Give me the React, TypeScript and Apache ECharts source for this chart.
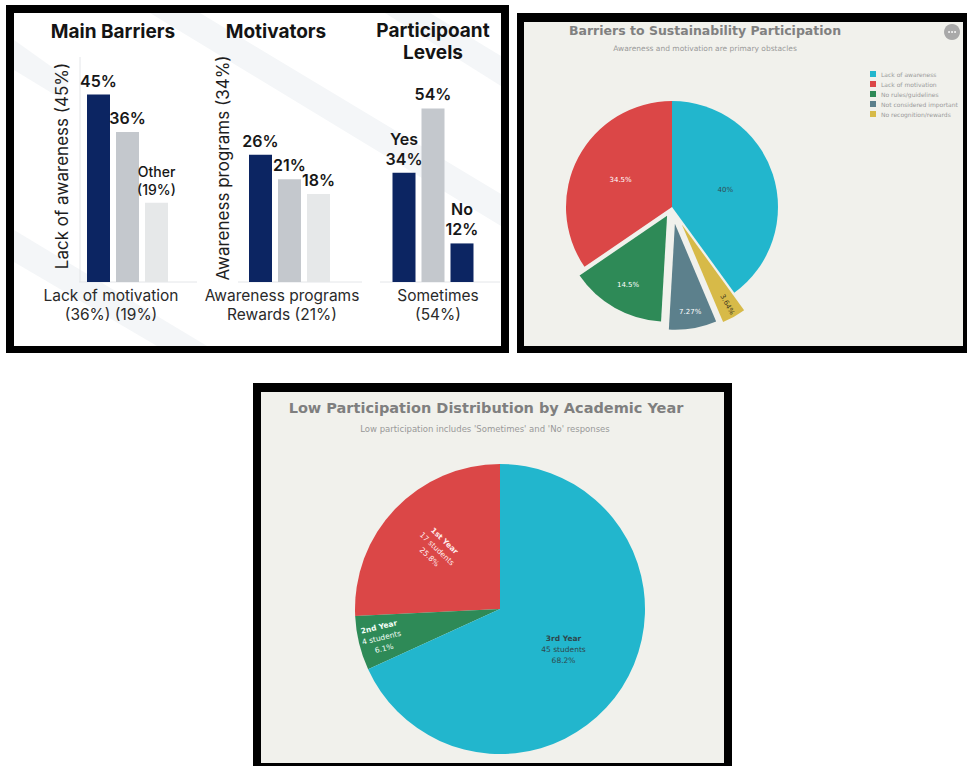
import React, { useEffect, useRef } from "react";
import * as echarts from "echarts";

// ---------- Panel 1 : slide with three small bar groups ----------
const barrierCategories = ["Lack of awareness", "Lack of motivation", "Other"];
const barrierValues = [45, 36, 19];
const motivatorCategories = ["Awareness programs", "Rewards", "Other"];
const motivatorValues = [26, 21, 18];
const levelCategories = ["Yes", "Sometimes", "No"];
const levelValues = [34, 54, 12];

const groupTitles = ["Main Barriers", "Motivators", "Participoant\nLevels"];
const groupAxisTitles = ["Lack of awareness (45%)", "Awareness programs (34%)"];
const groupFootnotes = [
  "Lack of motivation\n(36%) (19%)",
  "Awareness programs\nRewards (21%)",
  "Sometimes\n(54%)",
];

// ---------- Panel 2 : barriers pie ----------
const barrierReasons = [
  "Lack of awareness",
  "Lack of motivation",
  "No rules/guidelines",
  "Not considered important",
  "No recognition/rewards",
];
const barrierCounts = [22, 19, 8, 4, 2];
const barrierTitle = "Barriers to Sustainability Participation";
const barrierSubtitle = "Awareness and motivation are primary obstacles";

// ---------- Panel 3 : low participation by year ----------
const academicYears = ["1st Year", "2nd Year", "3rd Year"];
const lowParticipationCounts = [17, 4, 45];
const yearTitle = "Low Participation Distribution by Academic Year";
const yearSubtitle = "Low participation includes 'Sometimes' and 'No' responses";

const NAVY = "#0c2562";
const GRAY = "#c4c8cd";
const LIGHT = "#e6e8e9";
const CYAN = "#22b6cd";
const RED = "#db4747";
const GREEN = "#2e8a57";
const SLATE = "#5c808c";
const MUSTARD = "#d7ba48";
const PANEL_BG = "#f1f1ec";
const CLEAR = "rgba(0,0,0,0)";

const sum = (a: number[]) => a.reduce((s, v) => s + v, 0);

function txt(
  text: string,
  x: number,
  y: number,
  o: { size: number; weight?: any; color: string; family: string; lh?: number; rot?: number; align?: string }
) {
  return {
    type: "text",
    x,
    y,
    rotation: o.rot || 0,
    silent: true,
    style: {
      text,
      x: 0,
      y: 0,
      fill: o.color,
      fontSize: o.size,
      fontWeight: o.weight || "normal",
      fontFamily: o.family,
      lineHeight: o.lh,
      align: o.align || "center",
      verticalAlign: "middle",
      textAlign: o.align || "center",
      textVerticalAlign: "middle",
    },
  };
}

function buildOption() {
  const INTER = "Inter, 'Noto Sans', sans-serif";
  const DJV = "'DejaVu Sans', sans-serif";

  const barGroups = [
    {
      cats: barrierCategories,
      values: barrierValues,
      colors: [NAVY, GRAY, LIGHT],
      left: 84,
      max: 54,
      text: (c: string, v: number, i: number) => (i === 2 ? `${c}\n(${v}%)` : `${v}%`),
      small: [2],
    },
    {
      cats: motivatorCategories,
      values: motivatorValues,
      colors: [NAVY, GRAY, LIGHT],
      left: 246,
      max: 46,
      text: (_c: string, v: number) => `${v}%`,
      small: [] as number[],
    },
    {
      cats: levelCategories,
      values: levelValues,
      colors: [NAVY, GRAY, NAVY],
      left: 389.5,
      max: 70,
      text: (c: string, v: number, i: number) => (i === 1 ? `${v}%` : `${c}\n${v}%`),
      small: [] as number[],
    },
  ];

  const grid = barGroups.map((g) => ({ left: g.left, top: 57, width: 87, height: 225 }));
  const xAxis = barGroups.map((g, i) => ({
    type: "category",
    gridIndex: i,
    data: g.cats,
    axisLine: { show: false },
    axisTick: { show: false },
    axisLabel: { show: false },
  }));
  const yAxis = barGroups.map((g, i) => ({
    type: "value",
    gridIndex: i,
    min: 0,
    max: g.max,
    show: false,
    splitLine: { show: false },
  }));

  const series: any[] = barGroups.map((g, i) => ({
    type: "bar",
    xAxisIndex: i,
    yAxisIndex: i,
    barWidth: 23,
    silent: true,
    data: g.values.map((v, j) => {
      const small = g.small.indexOf(j) >= 0;
      return {
        value: v,
        itemStyle: { color: g.colors[j] },
        label: {
          show: true,
          position: "top",
          distance: 4,
          formatter: g.text(g.cats[j], v, j),
          fontFamily: INTER,
          fontSize: small ? 14 : 16,
          fontWeight: small ? 500 : 600,
          lineHeight: small ? 18 : 20,
          color: "#171717",
          align: "center",
        },
      };
    }),
  }));

  // ----- Panel 2 pie (each slice its own layer so each can be pulled by its own amount) -----
  const colors2 = [CYAN, RED, GREEN, SLATE, MUSTARD];
  const pulls2 = [0, 0, 10, 17, 20];
  const labelPos2 = [0.5, 0.52, 0.72, 0.82, 0.84];
  const labelColor2 = ["#2f4b52", "#ffffff", "#ffffff", "#ffffff", "#3f3a22"];
  const labelRot2: any[] = [0, 0, 0, 0, "radial"];
  const R2 = 106;
  const total2 = sum(barrierCounts);
  const start2 = 90 - (360 * barrierCounts[0]) / total2;

  barrierReasons.forEach((_n, k) => {
    const layer = (labelLayer: boolean) => ({
      type: "pie",
      silent: true,
      center: [672, 207],
      radius: [labelLayer ? (2 * labelPos2[k] - 1) * R2 : 0, R2],
      startAngle: start2,
      clockwise: false,
      avoidLabelOverlap: false,
      selectedMode: "single",
      selectedOffset: pulls2[k],
      labelLine: { show: false },
      emphasis: { disabled: true },
      itemStyle: { borderWidth: 0 },
      data: barrierReasons.map((name, j) => ({
        name,
        value: barrierCounts[j],
        selected: j === k && pulls2[k] > 0,
        itemStyle: { color: !labelLayer && j === k ? colors2[j] : CLEAR, borderWidth: 0 },
        label: {
          show: labelLayer && j === k,
          position: "inside",
          rotate: labelRot2[j],
          formatter: `${Number(((barrierCounts[j] / total2) * 100).toPrecision(3))}%`,
          color: labelColor2[j],
          fontSize: 7,
          fontFamily: DJV,
        },
      })),
    });
    series.push(layer(false), layer(true));
  });

  // ----- Panel 3 pie -----
  const colors3 = [RED, GREEN, CYAN];
  const labelPos3 = [0.58, 0.82, 0.5];
  const labelRot3: any[] = ["radial", "radial", 0];
  const labelColor3 = ["#ffecec", "#f4fff8", "#2f474c"];
  const R3 = 145;
  const total3 = sum(lowParticipationCounts);
  series.push({
    type: "pie",
    silent: true,
    center: [500, 609],
    radius: [0, R3],
    startAngle: 90,
    clockwise: false,
    label: { show: false },
    labelLine: { show: false },
    emphasis: { disabled: true },
    data: academicYears.map((name, j) => ({
      name,
      value: lowParticipationCounts[j],
      itemStyle: { color: colors3[j], borderWidth: 0 },
    })),
  });
  academicYears.forEach((_n, k) => {
    series.push({
      type: "pie",
      silent: true,
      center: [500, 609],
      radius: [(2 * labelPos3[k] - 1) * R3, R3],
      startAngle: 90,
      clockwise: false,
      avoidLabelOverlap: false,
      labelLine: { show: false },
      emphasis: { disabled: true },
      data: academicYears.map((name, j) => ({
        name,
        value: lowParticipationCounts[j],
        itemStyle: { color: CLEAR, borderWidth: 0 },
        label: {
          show: j === k,
          position: "inside",
          rotate: labelRot3[j],
          formatter: `{b|${name}}\n{n|${lowParticipationCounts[j]} students}\n{n|${(
            (lowParticipationCounts[j] / total3) *
            100
          ).toFixed(1)}%}`,
          rich: {
            b: { fontSize: 7.5, fontWeight: "bold", color: labelColor3[j], fontFamily: DJV, lineHeight: 11, align: "center" },
            n: { fontSize: 7.5, color: labelColor3[j], fontFamily: DJV, lineHeight: 11, align: "center" },
          },
        },
      })),
    });
  });

  // ----- graphics: frames, backgrounds, titles, free texts -----
  const g: any[] = [];
  // panel 1
  g.push({ type: "rect", silent: true, shape: { x: 6, y: 5, width: 503, height: 348 }, style: { fill: "#000" } });
  g.push({ type: "rect", silent: true, shape: { x: 14, y: 13, width: 487, height: 333 }, style: { fill: "#ffffff" } });
  const stripe = "#f4f6f8";
  g.push({ type: "polygon", silent: true, shape: { points: [[14, 230], [207, 346], [157, 346], [14, 262]] }, style: { fill: stripe } });
  g.push({ type: "polygon", silent: true, shape: { points: [[150, 13], [200, 13], [501, 194], [501, 226]] }, style: { fill: stripe } });
  g.push({ type: "polygon", silent: true, shape: { points: [[385, 13], [430, 13], [501, 56], [501, 86]] }, style: { fill: stripe } });
  g.push({ type: "polygon", silent: true, shape: { points: [[14, 40], [14, 70], [60, 98], [70, 80]] }, style: { fill: stripe } });
  // panel 2
  g.push({ type: "rect", silent: true, shape: { x: 517, y: 13, width: 450, height: 340 }, style: { fill: "#000" } });
  g.push({ type: "rect", silent: true, shape: { x: 524, y: 22, width: 439, height: 324 }, style: { fill: PANEL_BG } });
  // panel 3
  g.push({ type: "rect", silent: true, shape: { x: 253, y: 383, width: 479, height: 383 }, style: { fill: "#000" } });
  g.push({ type: "rect", silent: true, shape: { x: 261, y: 392, width: 463, height: 371 }, style: { fill: PANEL_BG } });

  // panel 1 axis lines
  const axisC = "#e4e6e9";
  g.push({ type: "line", silent: true, shape: { x1: 80, y1: 57, x2: 80, y2: 282 }, style: { stroke: axisC, lineWidth: 1 } });
  g.push({ type: "line", silent: true, shape: { x1: 79, y1: 282, x2: 197, y2: 282 }, style: { stroke: axisC, lineWidth: 1 } });
  g.push({ type: "line", silent: true, shape: { x1: 238, y1: 282, x2: 362, y2: 282 }, style: { stroke: axisC, lineWidth: 1 } });
  g.push({ type: "line", silent: true, shape: { x1: 380, y1: 282, x2: 500, y2: 282 }, style: { stroke: axisC, lineWidth: 1 } });

  // panel 1 texts
  const titleX = [113, 276, 433];
  groupTitles.forEach((t, i) =>
    g.push(txt(t, titleX[i], i === 2 ? 41.5 : 31, { size: 19, weight: 700, color: "#141414", family: INTER, lh: 22 }))
  );
  g.push(txt(groupAxisTitles[0], 62, 166, { size: 17, color: "#1e1e1e", family: INTER, rot: Math.PI / 2 }));
  g.push(txt(groupAxisTitles[1], 223, 168, { size: 17, color: "#1e1e1e", family: INTER, rot: Math.PI / 2 }));
  const footX = [111, 282, 438];
  groupFootnotes.forEach((t, i) =>
    g.push(txt(t, footX[i], 305, { size: 15.5, color: "#2a2a2a", family: INTER, lh: 18.5 }))
  );

  // panel 2 texts
  g.push(txt(barrierTitle, 705, 30, { size: 12.5, weight: "bold", color: "#808080", family: DJV }));
  g.push(txt(barrierSubtitle, 705, 48, { size: 7.5, color: "#9a9a9a", family: DJV }));
  g.push({ type: "circle", silent: true, shape: { cx: 952, cy: 32, r: 8 }, style: { fill: "#a9a9a9" } });
  [-3, 0, 3].forEach((d) =>
    g.push({ type: "circle", silent: true, shape: { cx: 952 + d, cy: 32, r: 0.9 }, style: { fill: "#ffffff" } })
  );

  // panel 3 texts
  g.push(txt(yearTitle, 486, 408, { size: 14.5, weight: "bold", color: "#7f7f7f", family: DJV }));
  g.push(txt(yearSubtitle, 485, 429, { size: 8.5, color: "#999999", family: DJV }));

  return {
    animation: false,
    backgroundColor: "#ffffff",
    grid,
    xAxis,
    yAxis,
    legend: {
      orient: "vertical",
      left: 865,
      top: 66,
      icon: "rect",
      itemWidth: 6,
      itemHeight: 6,
      itemGap: 4,
      selectedMode: false,
      data: barrierReasons.map((n, j) => ({ name: n, itemStyle: { color: colors2[j] } })),
      textStyle: { fontSize: 6, color: "#9a9a9a", fontFamily: DJV },
    },
    graphic: { elements: g },
    series,
  };
}

export default function App() {
  const ref = useRef<HTMLDivElement>(null);
  useEffect(() => {
    const chart = echarts.init(ref.current!, null, { renderer: "svg" });
    chart.setOption(buildOption() as any);
    return () => chart.dispose();
  }, []);
  return (
    <div
      ref={ref}
      style={{ position: "fixed", left: 0, top: 0, width: 967, height: 766, background: "#fff" }}
    />
  );
}
